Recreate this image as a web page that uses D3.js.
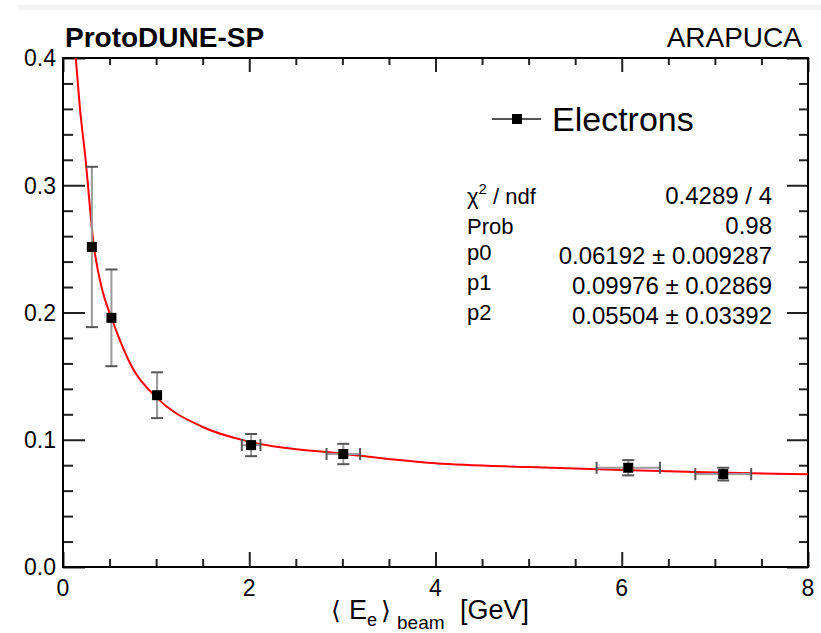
<!DOCTYPE html>
<head>
    <meta charset="utf-8">
    <title>ProtoDUNE-SP ARAPUCA resolution</title>
    <style>
        body { margin: 0; background: #fff; }
        text { font-family: "Liberation Sans", Arial, sans-serif; fill: #000; }
    </style>
</head>

<body>

<svg width="821" height="633"></svg>

<script src="https://cdnjs.cloudflare.com/ajax/libs/d3/7.8.5/d3.min.js"></script>

<script>

    var energy     = [0.31, 0.52, 1.01, 2.02, 3.01, 6.07, 7.09];
    var energyErr  = [0.03, 0.03, 0.04, 0.10, 0.18, 0.34, 0.30];
    var resolution = [0.2515, 0.1958, 0.1350, 0.0958, 0.0888, 0.0780, 0.0730];
    var resErr     = [0.063, 0.038, 0.018, 0.0087, 0.008, 0.006, 0.005];

    // red fit curve
    var fitE   = [0.137, 0.18, 0.24, 0.33, 0.42, 0.52, 0.75, 1.0, 1.5, 2.0, 3.0, 4.0, 5.0, 6.0, 7.0, 8.0];
    var fitRes = [0.400, 0.362, 0.322, 0.253, 0.218, 0.196, 0.156, 0.1335, 0.110, 0.0985, 0.089, 0.0815, 0.0785, 0.0762, 0.0742, 0.0728];

    // stats box
    var statLabels = ["χ2 / ndf", "Prob", "p0", "p1", "p2"];
    var statValues = ["0.4289 / 4", "0.98", "0.06192 ± 0.009287", "0.09976 ± 0.02869", "0.05504 ± 0.03392"];

    var xMajor = [0, 2, 4, 6, 8];
    var yMajor = [0, 0.1, 0.2, 0.3, 0.4];

    var svg = d3.select("svg"),
        margin = {top: 58, right: 13, bottom: 66, left: 63},
        width = +svg.attr("width") - margin.left - margin.right,
        height = +svg.attr("height") - margin.top - margin.bottom;

    var x = d3.scaleLinear().domain([0, 8]).range([0, width]),
        y = d3.scaleLinear().domain([0, 0.4]).range([height, 0]);

    // faint page-edge band at the very top
    svg.append("rect")
        .attr("x", 18).attr("y", 5).attr("width", 803).attr("height", 5)
        .style("fill", "#f3f3f3");

    var g = svg.append("g")
        .attr("transform", "translate(" + margin.left + "," + margin.top + ")");

    g.append("clipPath").attr("id", "clip")
      .append("rect").attr("width", width).attr("height", height);

    var xMinor = d3.range(0, 8.01, 0.5).filter(function(v) { return xMajor.indexOf(v) < 0; });
    var yMinor = d3.range(0, 0.401, 0.02).filter(function(v) {
        return !yMajor.some(function(m) { return Math.abs(m - v) < 1e-6; });
    });

    // ROOT style: ticks point inwards on all four sides
    function ticks(axis, vals, size) {
        return axis.tickValues(vals).tickSize(-size).tickFormat("");
    }

    var tickStyle = function(sel) {
        sel.select(".domain").remove();
        sel.selectAll("line").style("stroke", "#222").style("stroke-width", 2);
    };

    g.append("g").attr("transform", "translate(0," + height + ")")
        .call(ticks(d3.axisBottom(x), xMajor, 15)).call(tickStyle);
    g.append("g").attr("transform", "translate(0," + height + ")")
        .call(ticks(d3.axisBottom(x), xMinor, 8)).call(tickStyle);
    g.append("g").call(ticks(d3.axisTop(x), xMajor, 14)).call(tickStyle);
    g.append("g").call(ticks(d3.axisTop(x), xMinor, 7)).call(tickStyle);

    g.append("g").call(ticks(d3.axisLeft(y), yMajor, 22)).call(tickStyle);
    g.append("g").call(ticks(d3.axisLeft(y), yMinor, 10)).call(tickStyle);
    g.append("g").attr("transform", "translate(" + width + ",0)")
        .call(ticks(d3.axisRight(y), yMajor, 21)).call(tickStyle);
    g.append("g").attr("transform", "translate(" + width + ",0)")
        .call(ticks(d3.axisRight(y), yMinor, 9)).call(tickStyle);

    // frame
    g.append("rect")
        .attr("width", width).attr("height", height)
        .style("fill", "none").style("stroke", "#000").style("stroke-width", 2);

    // tick labels
    g.selectAll(".xlab").data(xMajor).enter().append("text")
        .attr("x", function(d) { return x(d); })
        .attr("y", height + 29)
        .attr("text-anchor", "middle")
        .style("font-size", "23px")
        .text(function(d) { return d; });

    g.selectAll(".ylab").data(yMajor).enter().append("text")
        .attr("x", -7)
        .attr("y", function(d) { return y(d); })
        .attr("dy", "0.36em")
        .attr("text-anchor", "end")
        .style("font-size", "23px")
        .text(function(d) { return d3.format(".1f")(d); });

    // x axis title:  < E_e >_beam [GeV]
    var xt = svg.append("text")
        .attr("y", 619)
        .style("font-size", "27px");
    xt.append("tspan").attr("x", 331).style("font-family", "DejaVu Sans").style("font-size", "25px").text("⟨");
    xt.append("tspan").attr("x", 349).text("E");
    xt.append("tspan").attr("x", 367).attr("dy", 7).style("font-size", "18px").text("e");
    xt.append("tspan").attr("x", 381).attr("dy", -7).style("font-family", "DejaVu Sans").style("font-size", "25px").text("⟩");
    xt.append("tspan").attr("x", 397).attr("dy", 10).style("font-size", "19px").text("beam");
    xt.append("tspan").attr("x", 460).attr("dy", -10).text("[GeV]");

    // headers
    svg.append("text").attr("x", 65).attr("y", 47)
        .style("font-size", "28px").style("font-weight", "bold")
        .text("ProtoDUNE-SP");
    svg.append("text").attr("x", 802).attr("y", 47)
        .attr("text-anchor", "end")
        .style("font-size", "28px")
        .text("ARAPUCA");

    // fit curve
    var line = d3.line()
        .x(function(d, i) { return x(fitE[i]); })
        .y(function(d, i) { return y(fitRes[i]); })
        .curve(d3.curveMonotoneX);

    g.append("path")
        .datum(fitE)
        .attr("clip-path", "url(#clip)")
        .attr("d", line)
        .style("fill", "none").style("stroke", "#ff0000").style("stroke-width", 2);

    // data points with error bars
    var pts = energy.map(function(e, i) {
        return {e: e, ex: energyErr[i], r: resolution[i], rx: resErr[i]};
    });

    var pt = g.selectAll(".pt").data(pts).enter().append("g").attr("class", "pt");

    pt.append("line")
        .attr("x1", function(d) { return x(d.e); })
        .attr("x2", function(d) { return x(d.e); })
        .attr("y1", function(d) { return y(d.r - d.rx); })
        .attr("y2", function(d) { return y(d.r + d.rx); })
        .style("stroke", "#999").style("stroke-width", 2);

    pt.selectAll(".ycap").data(function(d) { return [[d.e, d.r - d.rx], [d.e, d.r + d.rx]]; })
        .enter().append("line")
        .attr("x1", function(d) { return x(d[0]) - 6; })
        .attr("x2", function(d) { return x(d[0]) + 6; })
        .attr("y1", function(d) { return y(d[1]); })
        .attr("y2", function(d) { return y(d[1]); })
        .style("stroke", "#555").style("stroke-width", 2);

    // horizontal bars only where they stick out of the marker
    var wide = pt.filter(function(d) { return x(d.ex) > 6; });

    wide.append("line")
        .attr("x1", function(d) { return x(d.e - d.ex); })
        .attr("x2", function(d) { return x(d.e + d.ex); })
        .attr("y1", function(d) { return y(d.r); })
        .attr("y2", function(d) { return y(d.r); })
        .style("stroke", "#999").style("stroke-width", 2);

    wide.selectAll(".xcap").data(function(d) { return [[d.e - d.ex, d.r], [d.e + d.ex, d.r]]; })
        .enter().append("line")
        .attr("x1", function(d) { return x(d[0]); })
        .attr("x2", function(d) { return x(d[0]); })
        .attr("y1", function(d) { return y(d[1]) - 6; })
        .attr("y2", function(d) { return y(d[1]) + 6; })
        .style("stroke", "#555").style("stroke-width", 2);

    pt.append("rect")
        .attr("x", function(d) { return x(d.e) - 5; })
        .attr("y", function(d) { return y(d.r) - 5; })
        .attr("width", 10).attr("height", 10)
        .style("fill", "#000");

    // legend
    svg.append("line")
        .attr("x1", 492).attr("x2", 541).attr("y1", 119).attr("y2", 119)
        .style("stroke", "#555").style("stroke-width", 2);
    svg.append("rect")
        .attr("x", 512).attr("y", 114).attr("width", 10).attr("height", 10)
        .style("fill", "#000");
    svg.append("text")
        .attr("x", 552).attr("y", 131)
        .style("font-size", "34px")
        .text("Electrons");

    // stats box (no border, like the reference)
    var stat = svg.append("g");
    statLabels.forEach(function(lab, i) {
        var by = 204 + i * 30;
        var t = stat.append("text")
            .attr("x", 467).attr("y", lab[0] == "p" ? by - 4 : by)
            .style("font-size", "22px");
        if (lab.indexOf("χ2") == 0) {
            t.append("tspan").text("χ");
            t.append("tspan").attr("dy", -10).style("font-size", "15px").text("2");
            t.append("tspan").attr("dy", 10).text(" / ndf");
        } else {
            t.text(lab);
        }
        stat.append("text")
            .attr("x", 772).attr("y", by)
            .attr("text-anchor", "end")
            .style("font-size", "24px")
            .text(statValues[i]);
    });

</script>

</body>
